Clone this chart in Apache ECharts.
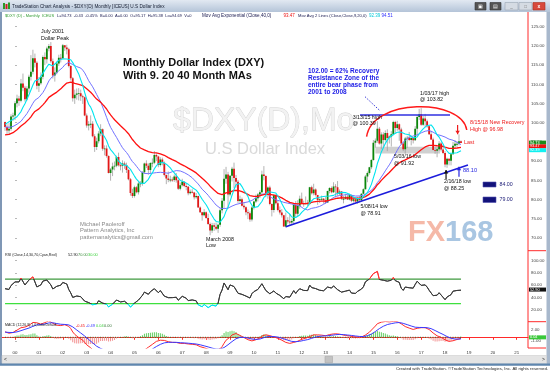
<!DOCTYPE html>
<html><head><meta charset="utf-8">
<script src="https://cdn.jsdelivr.net/npm/echarts@6/dist/echarts.min.js"></script>
<style>html,body{margin:0;padding:0;background:#fff;overflow:hidden}#c{width:550px;height:372px}</style>
</head><body><div id="c"></div>
<script>
// ---- DATA (monthly DXY, months counted from Jan 2000 = 0) ----
// closes before the first visible bar (Jan 1997 - Jul 1999), used only to seed the averages
const warmupCloses = [90.7,92.0,92.6,94.6,92.0,93.3,97.2,98.4,96.6,96.0,98.4,99.6,
  99.6,98.8,100.5,98.9,99.5,100.2,100.2,100.5,95.5,92.7,95.7,94.2,
  95.9,98.0,100.1,101.6,103.6,103.6,100.2];
const firstMonth = -5; // Aug 1999
const closes = [
  98.9,98.0,98.4,101.6,101.9,
  105.1,106.3,105.7,110.2,109.1,106.1,108.9,112.0,113.3,116.8,115.6,109.6,
  110.3,112.0,117.1,116.5,119.3,120.0,116.0,112.3,113.1,115.4,116.9,116.8,
  120.2,119.6,119.1,114.8,111.6,106.4,107.3,107.6,107.7,106.9,106.6,101.9,
  99.3,99.6,99.7,96.5,93.7,95.2,97.2,98.3,93.2,93.3,91.3,86.9,
  87.8,88.6,88.8,91.1,88.9,88.8,89.4,89.0,87.7,85.3,81.7,80.9,
  83.2,81.9,84.2,84.2,87.1,89.4,88.8,87.7,89.5,89.6,91.6,91.2,
  89.0,90.4,89.6,86.4,85.5,85.1,85.2,85.1,86.0,85.0,82.8,83.7,
  84.6,83.5,83.3,81.6,82.0,81.8,80.6,80.9,77.9,76.7,75.9,76.7,
  75.2,73.6,71.9,73.3,72.9,72.4,73.4,77.2,79.7,85.4,86.5,81.3,
  86.2,88.0,85.6,84.6,79.6,80.1,78.4,78.0,76.7,76.4,74.8,77.9,
  79.5,80.3,81.3,81.9,86.5,86.1,81.6,83.1,78.8,77.3,81.1,79.0,
  77.3,76.6,75.9,73.0,74.6,74.3,74.0,74.4,78.6,76.3,78.4,80.2,
  79.0,78.9,79.0,78.8,83.2,81.6,82.6,81.2,79.9,80.1,80.2,79.8,
  79.2,82.2,83.0,81.9,83.4,83.2,81.5,82.1,80.2,80.2,80.7,80.0,
  81.2,79.7,80.1,79.5,80.4,79.8,81.5,82.7,86.0,86.9,88.4,90.3,
  94.8,95.3,98.4,94.6,96.9,95.5,97.3,96.0,96.4,97.0,100.2,98.6,
  99.6,98.2,94.6,93.1,95.9,96.1,95.5,96.0,95.4,98.4,101.5,102.2,
  99.5,101.1,100.4,99.1,97.0,95.6,92.9,92.7,93.1,94.6,93.0,92.1,
  89.1,90.6,90.1,91.8,94.0,94.5,94.5,95.16,94.73];
const highs = [
  100.3,99.6,99.9,102.2,102.6,
  105.6,107.3,107.0,111.4,112.8,109.6,109.5,112.5,117.6,119.0,118.0,116.0,
  111.9,113.1,117.5,118.3,119.8,120.5,121.0,116.7,114.4,116.0,117.7,117.9,
  120.5,120.2,120.3,119.5,115.0,111.9,108.6,108.9,109.0,108.6,107.3,106.8,
  102.4,100.4,101.9,100.4,97.0,96.1,97.8,99.6,98.5,94.1,94.1,91.5,
  88.2,89.6,89.9,91.4,92.2,89.6,90.2,89.9,89.6,87.9,85.6,82.8,
  83.6,83.5,84.6,84.8,87.4,89.6,90.2,89.4,89.7,90.7,92.6,92.0,
  91.4,91.0,90.9,89.9,86.5,87.3,86.2,85.8,86.5,86.9,85.3,84.4,
  85.4,84.7,84.2,83.5,82.6,82.7,82.0,81.7,81.0,78.2,76.8,77.5,
  76.9,76.3,74.0,73.9,73.9,74.0,73.7,77.7,80.4,87.9,88.5,87.2,
  86.4,88.5,89.6,86.4,85.1,81.0,80.5,79.3,78.2,77.4,76.9,78.3,
  79.7,81.3,81.7,82.4,87.5,88.7,86.3,83.4,83.6,79.0,81.4,81.4,
  79.8,78.2,77.5,76.0,76.6,75.4,76.2,75.0,78.9,79.6,79.8,81.0,
  81.8,79.7,80.8,79.9,83.3,83.6,84.1,82.9,81.0,80.3,81.0,80.4,
  80.7,82.3,83.2,83.4,84.5,84.0,84.8,82.6,82.2,80.9,81.5,81.2,
  81.5,81.3,80.7,80.3,80.6,81.0,81.6,82.9,86.4,87.3,88.5,90.5,
  95.5,95.9,100.4,98.9,97.5,97.5,98.0,98.3,96.7,97.8,100.5,100.5,
  100.5,99.8,98.7,95.1,96.3,96.6,97.6,96.7,96.2,99.1,102.0,103.6,
  103.8,101.8,102.3,100.8,99.3,97.9,96.1,93.7,93.6,95.2,95.0,94.2,
  92.6,90.9,90.7,91.9,95.0,95.5,95.2,96.98,95.38];
const lows = [
  97.9,96.8,96.8,97.9,100.5,
  100.7,104.0,104.4,105.3,108.2,105.5,105.8,107.8,111.0,112.6,114.4,108.7,
  108.0,109.9,111.3,115.0,115.4,118.6,115.6,111.5,110.7,112.6,114.8,115.7,
  116.5,118.7,117.8,114.4,111.0,105.5,104.9,106.0,105.8,105.7,104.9,101.7,
  98.7,98.0,98.6,96.2,92.4,92.9,94.6,96.5,92.7,91.5,90.9,86.8,
  84.9,86.1,87.6,88.4,88.6,87.6,87.0,88.0,86.9,85.0,81.0,80.4,
  80.5,81.6,81.3,83.2,83.6,86.7,88.2,86.5,86.8,88.4,89.2,90.0,
  88.4,88.6,88.9,86.0,84.0,84.5,84.5,84.6,84.6,84.4,82.5,82.4,
  83.4,83.2,82.4,81.1,81.3,81.6,80.0,80.2,77.9,76.5,74.5,75.6,
  75.0,73.4,70.7,71.3,71.8,72.0,71.3,72.9,76.4,77.7,84.1,77.7,
  80.8,84.7,83.0,83.1,79.1,79.0,78.2,77.4,75.9,74.9,74.2,74.3,
  77.4,79.1,79.5,80.4,81.4,85.0,80.6,80.2,78.5,75.6,76.6,78.7,
  76.9,76.1,75.3,72.9,72.7,73.7,73.4,73.4,73.6,75.3,75.6,77.6,
  78.8,78.1,78.8,78.3,78.5,81.3,81.1,80.8,78.6,79.1,79.7,78.9,
  78.9,79.1,81.6,81.6,81.7,80.5,81.0,81.1,79.9,79.0,80.0,79.9,
  79.8,79.3,79.2,79.2,78.91,79.7,79.5,81.4,82.6,84.5,86.5,87.9,
  90.1,93.5,94.8,94.3,93.1,93.5,95.1,92.6,94.6,93.8,96.7,97.3,
  97.9,95.3,94.3,92.6,91.92,93.4,95.2,94.1,94.6,95.3,96.6,100.7,
  99.2,99.2,98.9,98.7,96.8,95.5,92.8,91.9,91.0,92.7,92.5,91.8,
  88.4,88.25,88.9,88.9,91.7,93.2,93.7,94.1,94.69];
const yearTicks = [0,12,24,36,48,60,72,84,96,108,120,132,144,156,168,180,192,204,216,228,240,252];
const priceTicks = [70,75,80,85,90,95,100,105,110,115,120,125];
const rsiTicks = [20,40,60,80,100];
const macdTicks = [-1,2];
const rsiLevels = [70,30];
const trendLine = [[136,72.9],[227.5,89.0]];
const resistanceLine = [[173.3,102],[218.5,102]];
const zone = [[181,93.75],[213.5,92.0]];

// ---- derived indicators ----
const all = warmupCloses.concat(closes);
const off = warmupCloses.length;
const N = closes.length;
function sma(n){return all.map((v,i)=> i<n-1?null: all.slice(i-n+1,i+1).reduce((a,b)=>a+b,0)/n);}
function ema(arr,n){const k=2/(n+1);let e=null;return arr.map(v=>{if(v==null)return null;e=(e==null)?v:e+k*(v-e);return e;});}
function rsi(arr,n){const out=new Array(arr.length).fill(null);let ag=0,al=0;
  for(let i=1;i<arr.length;i++){const d=arr[i]-arr[i-1];const g=Math.max(d,0),l=Math.max(-d,0);
    if(i<=n){ag+=g/n;al+=l/n;if(i===n)out[i]=100-100/(1+ag/al);}
    else{ag=(ag*(n-1)+g)/n;al=(al*(n-1)+l)/n;out[i]=al===0?100:100-100/(1+ag/al);}}
  return out;}
const ma9=sma(9), ma20=sma(20), ema40=ema(all,40);
const e12=ema(all,12), e26=ema(all,26);
const macd=all.map((v,i)=>e12[i]-e26[i]);
const sig=ema(macd,9);
const rs=rsi(all,14);
const vis = arr => closes.map((c,i)=>[firstMonth+i, arr[off+i]]);
const candles = closes.map((c,i)=>[firstMonth+i, all[off+i-1], c, lows[i], highs[i]]);
const tStart=firstMonth, tEnd=firstMonth+N-1;

const FONT='"Liberation Sans", Arial, sans-serif';
const chart = echarts.init(document.getElementById('c'));
const xMin=-6.53, xMax=257.66;
const grids=[{left:2,width:526,top:12,height:238.7},{left:2,width:526,top:250.7,height:71.3},{left:2,width:526,top:322,height:26}];
const yLab = (vals, fmt)=>({show:true, customValues:vals, formatter:fmt, fontSize:4.4, color:'#444', margin:3, fontFamily:FONT});
const yTick = vals=>({show:true, customValues:vals, length:2, lineStyle:{color:'#888', width:0.6}});

chart.setOption({
  animation:false,
  grid:grids.map(g=>Object.assign({outerBoundsMode:'none', containLabel:false, show:false},g)),
  xAxis:[0,1,2].map(i=>({type:'value', gridIndex:i, min:xMin, max:xMax, show:i===2,
     splitLine:{show:false},
     axisLine:{show:i===2, lineStyle:{color:'#ff2a2a', width:1}},
     axisTick:{show:i===2, customValues:yearTicks, length:2.5, lineStyle:{color:'#ff2a2a'}},
     axisLabel:{show:i===2, customValues:yearTicks, margin:2.5, fontSize:4.4, color:'#333', fontFamily:FONT,
        formatter:v=>String((2000+Math.round(v/12))%100).padStart(2,'0')}})),
  yAxis:[
    {type:'value', gridIndex:0, position:'right', min:66.67, max:128.83, splitLine:{show:false}, axisLine:{show:false},
      axisTick:yTick(priceTicks), axisLabel:yLab(priceTicks, v=>v.toFixed(2))},
    {type:'value', gridIndex:1, position:'right', min:0, max:116.3, splitLine:{show:false}, axisLine:{show:false},
      axisTick:yTick(rsiTicks), axisLabel:yLab(rsiTicks, v=>v.toFixed(2))},
    {type:'value', gridIndex:2, position:'right', min:-2.93, max:4.19, splitLine:{show:false}, axisLine:{show:false},
      axisTick:yTick(macdTicks), axisLabel:yLab(macdTicks, v=>v.toFixed(2))}
  ],
  visualMap:[{type:'piecewise', show:false, seriesIndex:6, dimension:1,
    pieces:[{lt:30,color:'#00e0f0'},{gte:30,lte:70,color:'#3a3a3a'},{gt:70,color:'#ff3030'}]}],
  series:[
    {type:'custom', xAxisIndex:0, yAxisIndex:0, clip:true, z:2, data:candles, encode:{x:0,y:[1,2,3,4]},
      renderItem:(p,api)=>{const t=api.value(0),o=api.value(1),c=api.value(2),l=api.value(3),h=api.value(4);
        const top=api.coord([t,Math.max(h,o,c)]), bot=api.coord([t,Math.min(l,o,c)]);
        const po=api.coord([t,o]), pc=api.coord([t,c]);const w=1.8;
        const y0=Math.min(po[1],pc[1]);const hh=Math.max(0.9,Math.abs(po[1]-pc[1]));
        return {type:'group',children:[
          {type:'line',shape:{x1:top[0],y1:top[1],x2:bot[0],y2:bot[1]},style:{stroke:'#a0a0a0',lineWidth:0.8}},
          {type:'rect',shape:{x:po[0]-w/2,y:y0,width:w,height:hh},style:{fill:c>=o?'#0a870a':'#e31616'}}]};}},
    {type:'line', xAxisIndex:0, yAxisIndex:0, data:vis(ma20), symbol:'none', lineStyle:{color:'#7272ff',width:1}, z:3},
    {type:'line', xAxisIndex:0, yAxisIndex:0, data:vis(ema40), symbol:'none', lineStyle:{color:'#ff1010',width:1.3}, z:3},
    {type:'line', xAxisIndex:0, yAxisIndex:0, data:vis(ma9), symbol:'none', lineStyle:{color:'#00e4ee',width:1.1}, z:4},
    {type:'line', xAxisIndex:0, yAxisIndex:0, data:trendLine, symbol:'none', lineStyle:{color:'#1c1cdc',width:1.6}, z:5},
    {type:'line', xAxisIndex:0, yAxisIndex:0, data:resistanceLine, symbol:'none', lineStyle:{color:'#3030e0',width:1.5}, z:5,
      markArea:{silent:true, label:{show:false}, itemStyle:{color:'rgba(170,170,170,0.55)'},
        data:[[{coord:zone[0]},{coord:zone[1]}]]}},
    {type:'line', xAxisIndex:1, yAxisIndex:1, data:vis(rs), symbol:'none', lineStyle:{width:1}, z:4},
    {type:'line', xAxisIndex:1, yAxisIndex:1, data:[[tStart,rsiLevels[0]],[tEnd,rsiLevels[0]]], symbol:'none', lineStyle:{color:'#3f9a3f',width:1.4}, z:3},
    {type:'line', xAxisIndex:1, yAxisIndex:1, data:[[tStart,rsiLevels[1]],[tEnd,rsiLevels[1]]], symbol:'none', lineStyle:{color:'#3ee03e',width:1.4}, z:3},
    {type:'bar', xAxisIndex:2, yAxisIndex:2, barWidth:1, clip:true,
      data:closes.map((c,i)=>[firstMonth+i, macd[off+i]-sig[off+i]]),
      itemStyle:{color:p=>p.value[1]>=0?'#5fcf5f':'#f29090'}, z:2},
    {type:'line', xAxisIndex:2, yAxisIndex:2, data:[[tStart,0],[tEnd,0]], symbol:'none', lineStyle:{color:'#2f6f2f',width:1,type:[1,1.5]}, z:3},
    {type:'line', xAxisIndex:2, yAxisIndex:2, data:vis(macd), symbol:'none', clip:true, lineStyle:{color:'#ff2a2a',width:1}, z:4},
    {type:'line', xAxisIndex:2, yAxisIndex:2, data:vis(sig), symbol:'none', clip:true, lineStyle:{color:'#3a3aff',width:1}, z:4}
  ]
});

// ---- annotations and window chrome ----
const P = (t,p)=>chart.convertToPixel({xAxisIndex:0,yAxisIndex:0},[t,p]);
const YR = v=>chart.convertToPixel({xAxisIndex:1,yAxisIndex:1},[0,v])[1];
const YM = v=>chart.convertToPixel({xAxisIndex:2,yAxisIndex:2},[0,v])[1];
const g=[];
const txt=(x,y,s,size,color,opt={})=>g.push({type:'text',x,y,z:opt.z||60,silent:true,
  style:{text:s,fill:color,font:(opt.bold?'bold ':'')+size+'px '+FONT,textAlign:opt.align||'left',textVerticalAlign:'middle'}});
const rect=(x,y,w,h,fill,stroke,z)=>g.push({type:'rect',z:z||55,silent:true,shape:{x,y,width:w,height:h},style:{fill,stroke:stroke||null,lineWidth:stroke?0.6:0}});
const line=(x1,y1,x2,y2,stroke,lw,dash,z)=>g.push({type:'line',z:z||55,silent:true,shape:{x1,y1,x2,y2},style:{stroke,lineWidth:lw,lineDash:dash||null}});
const arrow=(tip,tail,color)=>{line(tail[0],tail[1],tip[0],tip[1],color,1.2);
  const d=tip[1]<tail[1]?1:-1; g.push({type:'polygon',z:56,silent:true,shape:{points:[[tip[0],tip[1]],[tip[0]-2.2,tip[1]+d*3.5],[tip[0]+2.2,tip[1]+d*3.5]]},style:{fill:color}});};

// watermarks (behind)
g.push({type:'text',x:173,y:121.5,z:0,silent:true,style:{text:'$DXY(D),Mo',fill:'#f2f2f2',stroke:'#d0d0d0',lineWidth:0.8,font:'32px '+FONT,textVerticalAlign:'middle'}});
g.push({type:'text',x:265,y:149.5,z:0,silent:true,style:{text:'U.S Dollar Index',fill:'#dadada',font:'16.5px '+FONT,textAlign:'center',textVerticalAlign:'middle'}});
txt(408,233,'FX',29,'#f5b9a8',{bold:true,z:1});
txt(445,233,'168',29,'#a9c6e2',{bold:true,z:1});

// chart annotations
txt(41,32,'July 2001',5.4,'#111'); txt(41,38.5,'Dollar Peak',5.4,'#111');
txt(123,63.3,'Monthly Dollar Index (DXY)',11,'#111',{bold:true});
txt(123,76,'With 9. 20 40 Month MAs',11,'#111',{bold:true});
['102.00 = 62% Recovery','Resistance Zone of the','entire bear phase from','2001 to 2008'].forEach((s,i)=>txt(308,71.7+i*6.9,s,6.5,'#1a1ae6',{bold:true}));
{const a=P(175.8,106.77), b=P(183.3,103.13); line(a[0],a[1],b[0],b[1],'#2020d0',0.9,[1.5,1.5]);}
{const p0=P(176.6,96.35), p1=P(179.3,106.43), p2=P(224.5,106.43), p3=P(226.9,98.1);
 g.push({type:'bezierCurve',z:55,silent:true,shape:{x1:p0[0],y1:p0[1],cpx1:p1[0],cpy1:p1[1],cpx2:p2[0],cpy2:p2[1],x2:p3[0],y2:p3[1]},style:{stroke:'#ff1a1a',lineWidth:1.5,fill:null}});}
txt(420,93.3,'1/03/17 high',5.3,'#111'); txt(420,100,'@ 103.82',5.3,'#111');
txt(352.7,117.7,'3/13/15 high',5.3,'#111'); txt(352.7,123.5,'@ 100.39',5.3,'#111');
txt(394,156.7,'5/03/16 low',5.3,'#111'); txt(394,163.3,'@ 91.92',5.3,'#111');
txt(360.5,206.7,'5/08/14 low',5.3,'#111'); txt(360.5,213.3,'@ 78.91',5.3,'#111');
txt(444,181.7,'2/16/18 low',5.3,'#111'); txt(444,188.3,'@ 88.25',5.3,'#111');
txt(470,122.7,'8/15/18 New Recovery',5.4,'#ee1c1c'); txt(470,129.3,'High @ 96.98',5.4,'#ee1c1c');
txt(464,142.7,'Last',5.4,'#ee1c1c');
arrow(P(222.3,97.0),P(222.3,99.4),'#ee1c1c');
arrow(P(216.5,87.7),P(216.5,85.3),'#111');
arrow(P(223,88.5),P(223,85.9),'#2424e0');
txt(463,170.7,'88.10',5.6,'#2424e0');
rect(483,182,13,5,'#12127a','#5050b0'); txt(499.5,184.5,'84.00',5.3,'#23237a');
rect(483,197,13,5.5,'#12127a','#5050b0'); txt(499.5,200,'79.00',5.3,'#23237a');
['Michael Paoleroff','Pattern Analytics, Inc','patternanalytics@gmail.com'].forEach((s,i)=>txt(80,224+i*6.5,s,5.8,'#8a8a8a'));
txt(206,240,'March 2008',5.3,'#111'); txt(206,246,'Low',5.3,'#111');

// right-axis value boxes
const box=(y,s,bg,fg)=>{rect(529,y-2,17,4,bg,null,70); txt(530,y,s,3.8,fg,{z:71});};
box(142.6,'94.73','#1b8c1b','#fff'); box(146.4,'93.47','#ee1111','#fff'); box(150.2,'92.39','#10f0f0','#fff');
box(YR(52.9),'52.90','#111','#fff'); box(YM(0.04)+0.2,'0.04','#39c839','#fff');

// header legends
txt(5,16,'$DXY (D) - Monthly  ICEUS',4.0,'#2f9a2f');
txt(57,16,'L=94.73  -0.43  -0.45%  B=0.00  A=0.00  O=95.17  H=95.38  Lo=94.69  V=0',4.0,'#1a1a50');
txt(202,16,'Mov Avg Exponential (Close,40,0)',4.6,'#1a1a50');
txt(283.5,16,'93.47',4.5,'#ee1111');
txt(298,16,'Mov Avg 2 Lines (Close,Close,9,20,0)',4.1,'#1a1a50');
txt(369,16,'92.39',4.5,'#00c8d8'); txt(381.5,16,'94.51',4.5,'#3030ff');
txt(5,254.5,'RSI (Close,14,30,70,Cyan,Red)',3.7,'#222');
txt(68,254.5,'52.90',3.9,'#222'); txt(78,254.5,'70.00',3.9,'#3c8c3c'); txt(88,254.5,'30.00',3.9,'#3ad03a');
txt(5,325.5,'MACD (12,26,9),1,0,ColorDefault',3.5,'#222');
txt(76,325.5,'-0.45',3.9,'#ee1111'); txt(86,325.5,'-0.49',3.9,'#3030ff'); txt(96,325.5,'0.04',3.9,'#3ad03a'); txt(104,325.5,'0.00',3.9,'#2f6f2f');

// axis frame lines
line(528,12,528,348,'#ff2a2a',1,null,65);
line(528,250.7,546,250.7,'#ff2a2a',1,null,65);
line(528,321.7,546,321.7,'#ff2a2a',1,null,65);
line(528,348,546,348,'#ff2a2a',1,null,65);

// window chrome
g.push({type:'rect',z:80,silent:true,shape:{x:0,y:0,width:550,height:12},style:{fill:new echarts.graphic.LinearGradient(0,0,0,1,[{offset:0,color:'#e2e9f2'},{offset:1,color:'#b4c4d8'}])}});
rect(3,3,2,6,'#2a9a2a',null,81); rect(5.5,4,2,5,'#d02020',null,81); rect(8,2.5,2,6.5,'#2a9a2a',null,81);
txt(12,6.3,'TradeStation Chart Analysis - $DXY(D) Monthly [ICEUS] U.S Dollar Index',4.7,'#141c30',{z:82});
rect(475,2.5,11,7.5,'#545454','#333',81); txt(480.5,6.3,'\u25A3',4.5,'#fff',{align:'center',z:82});
rect(490,2.5,11,7.5,'#545454','#333',81); txt(495.5,6.3,'\u25A4',4.5,'#fff',{align:'center',z:82});
rect(505,2.5,13,7.5,'#d5dbe3','#9aa6b4',81); rect(519,2.5,13,7.5,'#d5dbe3','#9aa6b4',81);
txt(511.5,6.3,'_',4.5,'#777',{align:'center',z:82}); txt(525.5,6.3,'\u25A1',4.5,'#777',{align:'center',z:82});
rect(533,2.5,12,7.5,'#d8493c','#a83020',81); txt(539,6.3,'x',5,'#fff',{align:'center',bold:true,z:82});
rect(0,12,2,352,'#7f97b5',null,81);
rect(546.5,12,3.5,352,'#a8b8cc',null,81);
rect(2,355.5,544.5,8,'#e4e4e4','#cfcfcf',81);
txt(4,359.5,'<',5,'#222',{z:82}); txt(542,359.5,'>',5,'#222',{z:82});
rect(325,356.3,7.5,6.4,'#c2c2c2','#a8a8a8',82);
rect(0,363.5,550,2.2,'#5f86ae',null,81);
txt(548,369,'Created with TradeStation. \u00A9TradeStation Technologies, Inc. All rights reserved.',4.3,'#222',{align:'right',z:82});

chart.setOption({graphic:{elements:g}});
</script></body></html>
